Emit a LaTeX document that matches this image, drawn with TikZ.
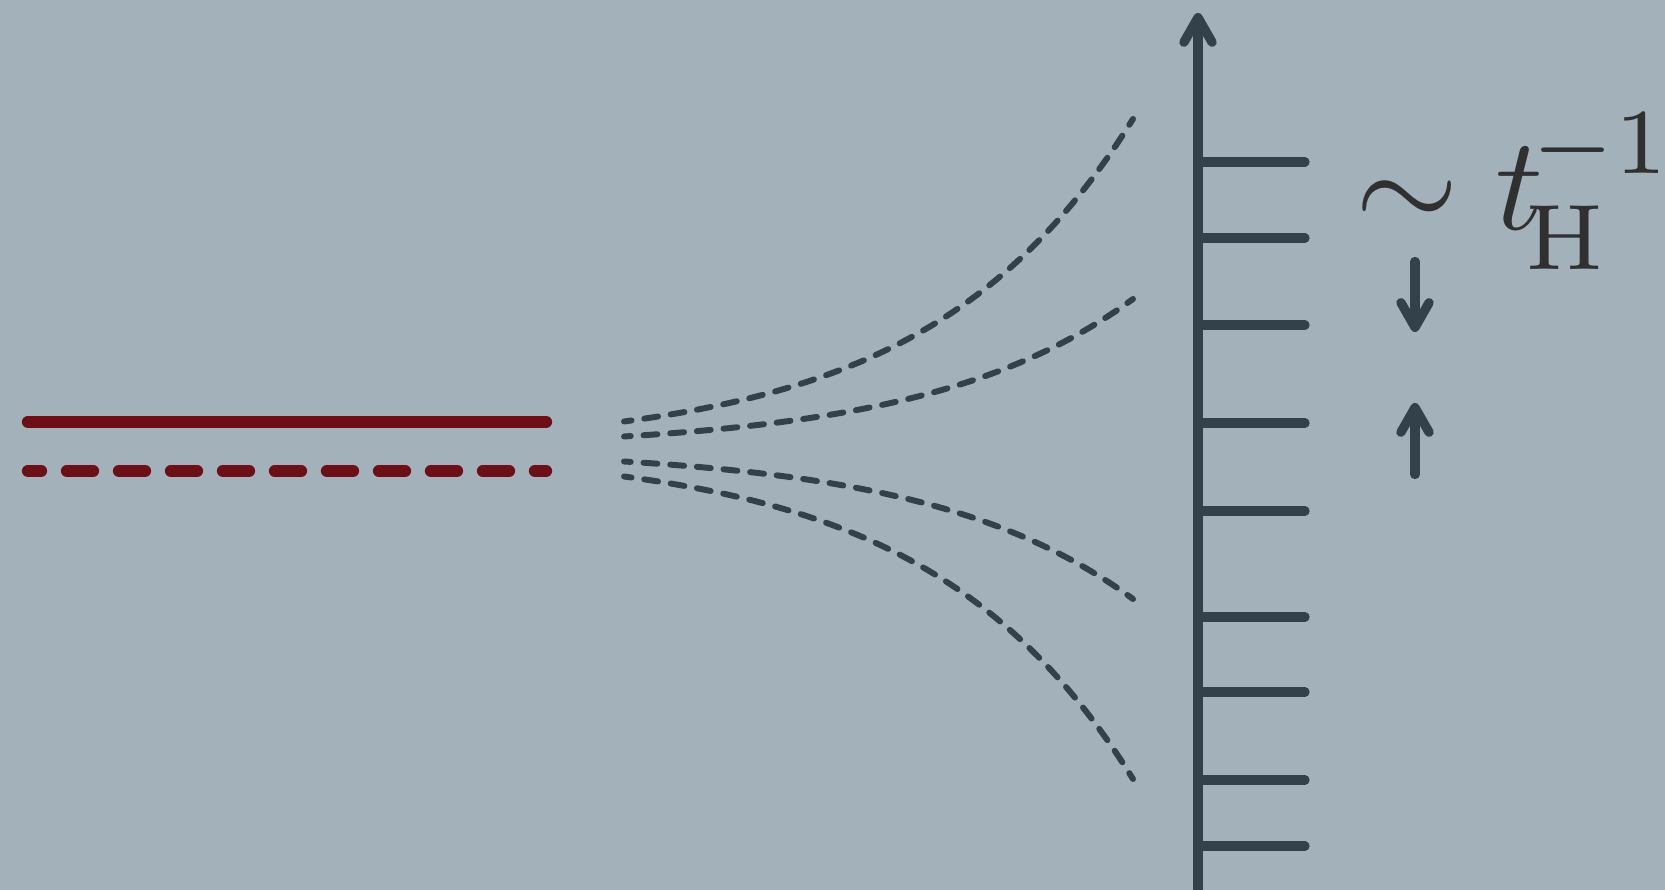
\documentclass[tikz,border=0pt]{standalone}
\usetikzlibrary{arrows.meta}
\definecolor{bgcol}{HTML}{A3B1BA}
\definecolor{inkcol}{HTML}{33414A}
\definecolor{wine}{HTML}{6D0F16}
\definecolor{textcol}{HTML}{303030}
\begin{document}
\begin{tikzpicture}[line cap=round,
    ink/.style={draw=inkcol, line width=2.65pt},
    barb/.style={ink, -{Straight Barb[length=7pt, width=8pt, round]}},
    wineline/.style={draw=wine, line width=3.5pt},
    branch/.style={draw=inkcol, line width=1.7pt, dash pattern=on 3.95pt off 3.66pt, dash phase=1.98pt}]
  \fill[bgcol] (0,0) rectangle (16.65,8.90);
  \useasboundingbox (0,0) rectangle (16.65,8.90);
  \coordinate (Ls) at (0.28,4.68);
  \coordinate (Le) at (5.46,4.68);
  \coordinate (Ds) at (0.28,4.19);
  \coordinate (De) at (5.46,4.19);
  \draw[wineline] (Ls) -- (Le);
  \draw[wineline, dash pattern=on 0.26cm off 0.26cm, dash phase=0.13cm] (Ds) -- (De);
  \foreach \a/\s in {0.275/1, 0.125/1, 0.125/-1, 0.275/-1}
    \draw[branch] plot[domain=5.09:0, samples=60] ({6.24+\x}, {4.41+\s*\a*exp(0.4882*\x)});
  \coordinate (axbot) at (11.98,-0.2);
  \coordinate (axtop) at (11.98,8.77);
  \draw[barb] (axbot) -- (axtop);
  \foreach \y in {162,238,325,423,511,617,692,780,846}
    \draw[ink] (11.98,{(890-\y)/100}) -- ++(1.07,0);
  \coordinate (dnA) at (14.15,6.285);
  \coordinate (dnB) at (14.15,5.58);
  \coordinate (upA) at (14.15,4.155);
  \coordinate (upB) at (14.15,4.87);
  \draw[barb] (dnA) -- (dnB);
  \draw[barb] (upA) -- (upB);
  \node[text=textcol, scale=3.78, anchor=base west, inner sep=0pt] (rate) at (13.53,6.60)
    {\scriptspace=0pt$\sim t_{\mkern-3mu\mathrm{H}}^{\mkern-2mu-1}$};
\end{tikzpicture}
\end{document}
